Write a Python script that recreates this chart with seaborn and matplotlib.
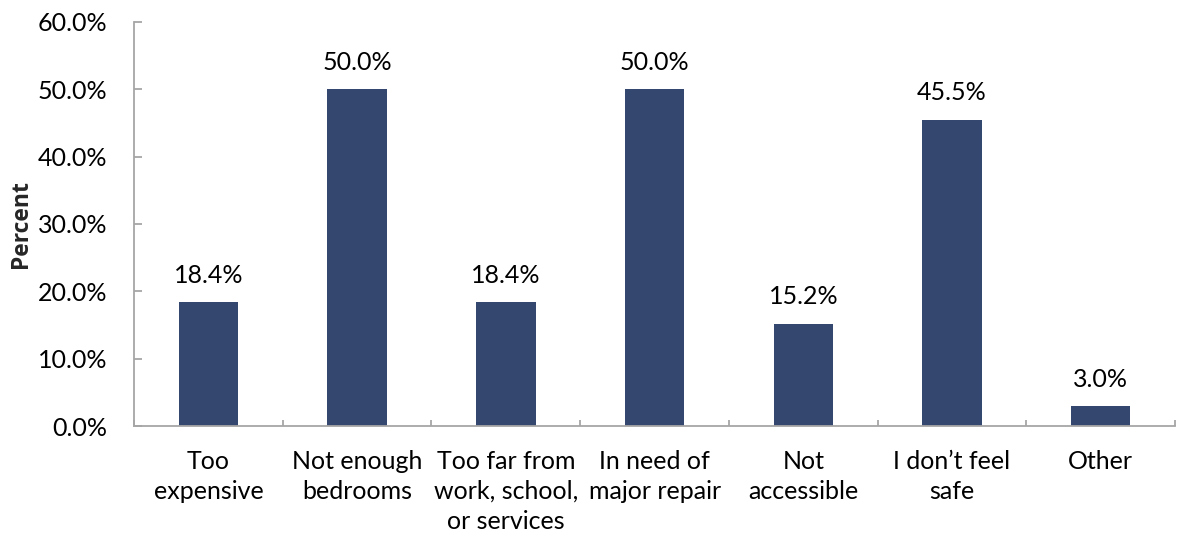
import matplotlib
matplotlib.use("Agg")
import matplotlib.pyplot as plt
from matplotlib.ticker import FuncFormatter, FixedLocator
import seaborn as sns
import pandas as pd

categories = [
    "Too\nexpensive",
    "Not enough\nbedrooms",
    "Too far from\nwork, school,\nor services",
    "In need of\nmajor repair",
    "Not\naccessible",
    "I don\u2019t feel\nsafe",
    "Other",
]
percents = [18.4, 50.0, 18.4, 50.0, 15.2, 45.5, 3.0]
y_ticks = [0, 10, 20, 30, 40, 50, 60]

sns.set_theme(style="white")
plt.rcParams["font.family"] = ["Lato", "DejaVu Sans"]

df = pd.DataFrame({"category": categories, "percent": percents})

fig = plt.figure(figsize=(11.79, 5.36), dpi=100)
ax = fig.add_axes([0.1137, 0.2052, 0.8830, 0.7538])

bar_color = "#34476F"
sns.barplot(data=df, x="category", y="percent", color=bar_color,
            width=0.4, saturation=1, linewidth=0, ax=ax)

ax.set_xlim(-0.5, len(categories) - 0.5)
ax.set_ylim(0, 60)
ax.yaxis.set_major_locator(FixedLocator(y_ticks))
ax.yaxis.set_major_formatter(FuncFormatter(lambda v, p: f"{v:.1f}%"))

axis_gray = "#A6A6A6"
for side in ["top", "right"]:
    ax.spines[side].set_visible(False)
for side in ["left", "bottom"]:
    ax.spines[side].set_color(axis_gray)
    ax.spines[side].set_linewidth(1.3)

fs = 18
ax.tick_params(axis="y", direction="in", length=6, width=1.3, color=axis_gray,
               labelsize=fs, pad=19, left=True)
ax.tick_params(axis="x", which="major", length=0, labelsize=fs, pad=17)
ax.set_xticks(range(len(categories)))
ax.set_xticklabels(categories, linespacing=1.38)
ax.set_xticks([i - 0.5 for i in range(len(categories) + 1)], minor=True)
ax.tick_params(axis="x", which="minor", direction="in", length=4, width=1.3,
               color=axis_gray, bottom=True)

ax.set_xlabel("")
ax.set_ylabel("Percent", fontsize=16.5, fontweight="bold",
              family=["Open Sans", "DejaVu Sans"])
ax.yaxis.set_label_coords(-0.097, 0.5)

for i, v in enumerate(percents):
    ax.annotate(f"{v:.1f}%", xy=(i, v), xytext=(0, 11), textcoords="offset points",
                ha="center", va="bottom", fontsize=fs, color="#000000")

for lbl in ax.get_xticklabels() + ax.get_yticklabels():
    lbl.set_color("#000000")

fig.savefig("out.png", dpi=100)
